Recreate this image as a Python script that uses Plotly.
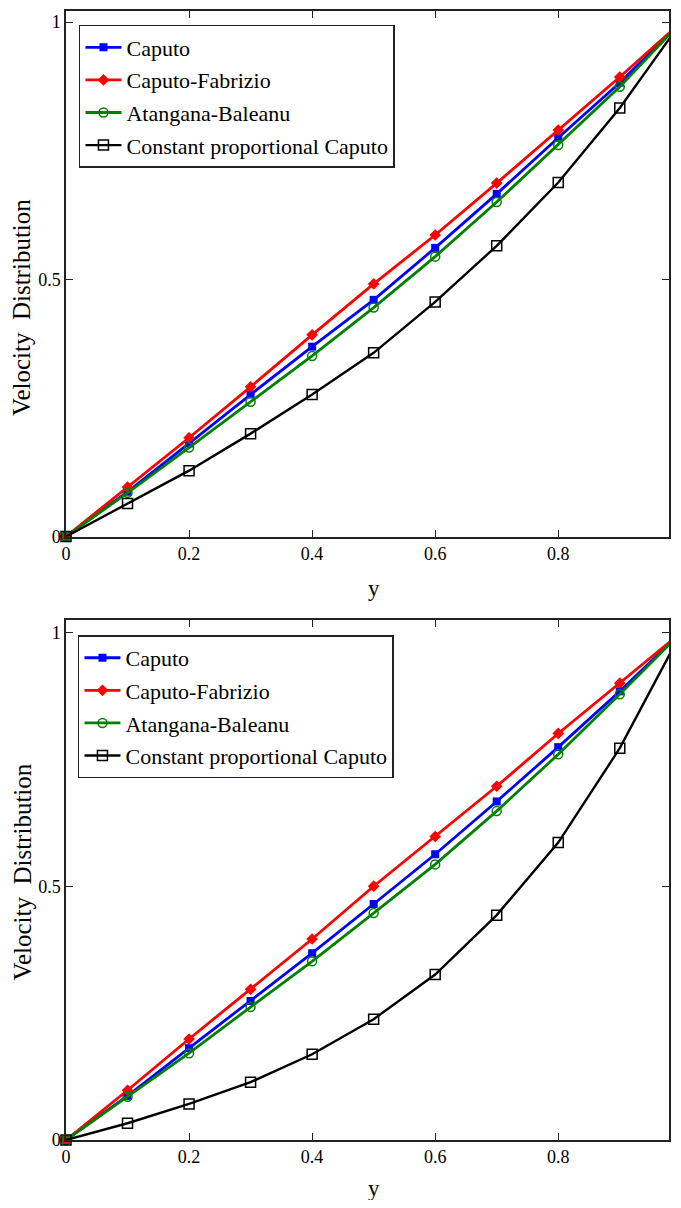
import plotly.graph_objects as go

# ---------------- data ----------------
y_pos = [0.0, 0.1, 0.2, 0.3, 0.4, 0.5, 0.6, 0.7, 0.8, 0.9, 1.0]
series_names = ["Caputo", "Caputo-Fabrizio", "Atangana-Baleanu", "Constant proportional Caputo"]

caputo_top = [0, 0.087, 0.181, 0.276, 0.369, 0.460, 0.561, 0.666, 0.775, 0.882, 1.0]
cf_top = [0, 0.096, 0.192, 0.291, 0.392, 0.491, 0.586, 0.687, 0.790, 0.893, 1.0]
ab_top = [0, 0.085, 0.173, 0.262, 0.351, 0.445, 0.544, 0.650, 0.761, 0.874, 1.0]
cpc_top = [0, 0.064, 0.128, 0.200, 0.276, 0.357, 0.456, 0.565, 0.688, 0.833, 1.0]

caputo_bot = [0, 0.087, 0.181, 0.274, 0.368, 0.465, 0.563, 0.667, 0.774, 0.884, 1.0]
cf_bot = [0, 0.098, 0.199, 0.297, 0.396, 0.500, 0.598, 0.697, 0.801, 0.900, 1.0]
ab_bot = [0, 0.085, 0.171, 0.262, 0.352, 0.447, 0.543, 0.648, 0.760, 0.878, 1.0]
cpc_bot = [0, 0.033, 0.071, 0.114, 0.169, 0.238, 0.326, 0.443, 0.586, 0.772, 1.0]

x_tickvals = [0, 0.2, 0.4, 0.6, 0.8]
x_ticktext = ["0", "0.2", "0.4", "0.6", "0.8"]
y_tickvals = [0, 0.5, 1]
y_ticktext = ["0", "0.5", "1"]

# ---------------- styles ----------------
styles = [
    dict(line=dict(color="#0000ff", width=2.8),
         marker=dict(symbol="square", size=8, color="#0000ff")),
    dict(line=dict(color="#ff0000", width=2.8),
         marker=dict(symbol="diamond", size=9, color="#ff0000")),
    dict(line=dict(color="#008000", width=2.8),
         marker=dict(symbol="circle-open", size=9, color="#008000", line=dict(width=1.5))),
    dict(line=dict(color="#000000", width=2.4),
         marker=dict(symbol="square-open", size=10, color="#000000", line=dict(width=1.5))),
]

FONT = "Liberation Serif, Times New Roman, serif"
fig = go.Figure()

panels = [
    (["x", "y", "legend"], [caputo_top, cf_top, ab_top, cpc_top]),
    (["x2", "y2", "legend2"], [caputo_bot, cf_bot, ab_bot, cpc_bot]),
]
for (xa, ya, lg), data in panels:
    for i, (name, vals) in enumerate(zip(series_names, data)):
        fig.add_trace(go.Scatter(
            x=y_pos, y=vals, name=name, mode="lines+markers",
            xaxis=xa, yaxis=ya, legend=lg, legendgroup=f"{lg}_{i}",
            line=styles[i]["line"], marker=styles[i]["marker"],
            cliponaxis=False,
        ))

axis_common = dict(
    showgrid=False, zeroline=False, showline=True, linecolor="#222222", linewidth=1.5,
    mirror="ticks", ticks="inside", ticklen=7, tickwidth=1.3, tickcolor="#222222",
    tickfont=dict(family=FONT, size=18, color="#000000"),
)

# the page body adds an 8px offset; work in reference pixels and subtract it
OFF = 8
W = 664
H = 1208 - 2 * OFF
left_px = 66
right_px = 671
top_px = 10
bot_px = 1140
plot_h = bot_px - top_px
plot_w = right_px - left_px
x_max = 0.98


def paper_y(py):
    return (bot_px - py) / plot_h


def paper_x(px):
    return (px - left_px) / plot_w


fig.update_layout(
    width=W, height=H,
    margin=dict(l=left_px - OFF, r=W - (right_px - OFF), t=top_px - OFF, b=H - (bot_px - OFF)),
    paper_bgcolor="white", plot_bgcolor="white",
    showlegend=True,
    xaxis=dict(axis_common, range=[0, x_max], tickvals=x_tickvals, ticktext=x_ticktext,
               anchor="y", domain=[0, 1]),
    yaxis=dict(axis_common, range=[0, 1.0214], tickvals=y_tickvals, ticktext=y_ticktext,
               anchor="x", domain=[paper_y(536), 1.0]),
    xaxis2=dict(axis_common, range=[0, x_max], tickvals=x_tickvals, ticktext=x_ticktext,
                anchor="y2", domain=[0, 1]),
    yaxis2=dict(axis_common, range=[0, 1.0236], tickvals=y_tickvals, ticktext=y_ticktext,
                anchor="x2", domain=[0, paper_y(620)]),
    legend=dict(x=paper_x(79), y=paper_y(24), xanchor="left", yanchor="top",
                bgcolor="white", bordercolor="#222222", borderwidth=1.5,
                font=dict(family=FONT, size=22, color="#000000"),
                tracegroupgap=1, itemwidth=36),
    legend2=dict(x=paper_x(78), y=paper_y(635), xanchor="left", yanchor="top",
                 bgcolor="white", bordercolor="#222222", borderwidth=1.5,
                 font=dict(family=FONT, size=22, color="#000000"),
                 tracegroupgap=1, itemwidth=36),
)

# axis titles
annos = []
for cy, ty in [(307, 588), (872, 1189)]:
    annos.append(dict(text="Velocity  Distribution", xref="paper", yref="paper",
                      x=paper_x(22), y=paper_y(cy), textangle=-90, showarrow=False,
                      xanchor="center", yanchor="middle",
                      font=dict(family=FONT, size=25, color="#000000")))
    annos.append(dict(text="y", xref="paper", yref="paper",
                      x=paper_x(375), y=paper_y(ty), showarrow=False,
                      xanchor="center", yanchor="middle",
                      font=dict(family=FONT, size=23, color="#000000")))
fig.update_layout(annotations=annos)

fig.write_html("out.html")
